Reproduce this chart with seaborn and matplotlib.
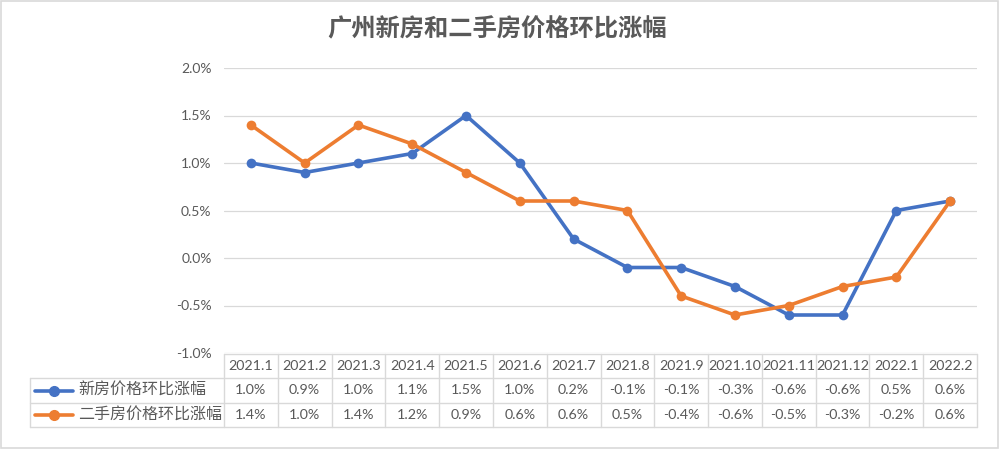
import numpy as np
import pandas as pd
import matplotlib
matplotlib.use("Agg")
import matplotlib.pyplot as plt
import seaborn as sns
from matplotlib.patches import Rectangle
from matplotlib.ticker import FuncFormatter

months = ["2021.1", "2021.2", "2021.3", "2021.4", "2021.5", "2021.6", "2021.7",
          "2021.8", "2021.9", "2021.10", "2021.11", "2021.12", "2022.1", "2022.2"]
new_house = [1.0, 0.9, 1.0, 1.1, 1.5, 1.0, 0.2, -0.1, -0.1, -0.3, -0.6, -0.6, 0.5, 0.6]
second_hand = [1.4, 1.0, 1.4, 1.2, 0.9, 0.6, 0.6, 0.5, -0.4, -0.6, -0.5, -0.3, -0.2, 0.6]
series_names = ["新房价格环比涨幅", "二手房价格环比涨幅"]
colors = ["#4472C4", "#ED7D31"]

sns.set_style("white")
plt.rcParams["font.family"] = ["Lato", "Noto Sans CJK SC"]

txt = "#595959"
grid_c = "#d9d9d9"

df = pd.DataFrame({
    "pos": list(range(len(months))) * 2,
    "value": new_house + second_hand,
    "series": [series_names[0]] * len(months) + [series_names[1]] * len(months),
})

W, H = 1000, 449
fig = plt.figure(figsize=(W / 100, H / 100), dpi=100)
fig.patches.append(Rectangle((0.001, 0.002), 0.997, 0.995, transform=fig.transFigure,
                             fill=False, edgecolor=grid_c, linewidth=1.2))

def px_axes(x0, y0, x1, y1):
    return fig.add_axes([x0 / W, 1 - y1 / H, (x1 - x0) / W, (y1 - y0) / H])

ax = px_axes(224, 68, 977, 353)
sns.lineplot(data=df, x="pos", y="value", hue="series", palette=colors,
             marker="o", markersize=7, markeredgewidth=0, linewidth=2.6,
             legend=False, ax=ax)
ax.set_xlim(-0.5, len(months) - 0.5)
ax.set_ylim(-1.0, 2.0)
ax.set_yticks(np.arange(-1.0, 2.01, 0.5))
ax.yaxis.set_major_formatter(FuncFormatter(lambda v, p: f"{v:.1f}%"))
ax.set_xticks([])
ax.grid(axis="y", color=grid_c, linewidth=0.9)
ax.set_axisbelow(True)
for s in ax.spines.values():
    s.set_visible(False)
ax.tick_params(axis="y", length=0, labelsize=10, labelcolor=txt, pad=9)
ax.set_xlabel("")
ax.set_ylabel("")

fig.text(0.497, 1 - 29 / H, "广州新房和二手房价格环比涨幅", ha="center", va="center",
         fontsize=17.5, color=txt, fontweight="bold", family=["Noto Sans CJK SC"])

# data table
colw = (977 - 224) / len(months)
left_units = (224 - 30) / colw
tx = px_axes(30, 354, 977, 427)
tx.set_xlim(-0.5 - left_units, len(months) - 0.5)
tx.set_ylim(3, 0)
tx.axis("off")
xl = -0.5 - left_units
x_right = len(months) - 0.5
lw = 1.0
tx.plot([-0.5, x_right], [0, 0], color=grid_c, lw=lw, clip_on=False)
for r in (1, 2, 3):
    tx.plot([xl, x_right], [r, r], color=grid_c, lw=lw, clip_on=False)
for k in range(len(months) + 1):
    tx.plot([-0.5 + k, -0.5 + k], [0, 3], color=grid_c, lw=lw, clip_on=False)
tx.plot([xl, xl], [1, 3], color=grid_c, lw=lw, clip_on=False)

for i, m in enumerate(months):
    tx.text(i, 0.5, m, ha="center", va="center", fontsize=10.3, color=txt)
for r, vals in enumerate([new_house, second_hand]):
    for i, v in enumerate(vals):
        tx.text(i, r + 1.5, f"{v:.1f}%", ha="center", va="center", fontsize=10.3, color=txt)

def ux(px):
    return xl + (px - 30) / colw

for r, (name, c) in enumerate(zip(series_names, colors)):
    y = r + 1.5
    tx.plot([ux(35), ux(73)], [y, y], color=c, lw=2.6, clip_on=False, solid_capstyle="round")
    tx.plot([ux(54)], [y], marker="o", markersize=7, color=c, clip_on=False)
    tx.text(ux(78), y, name, ha="left", va="center", fontsize=11.5, color=txt,
            family=["Noto Sans CJK SC"])

fig.savefig("out.png", dpi=100)
